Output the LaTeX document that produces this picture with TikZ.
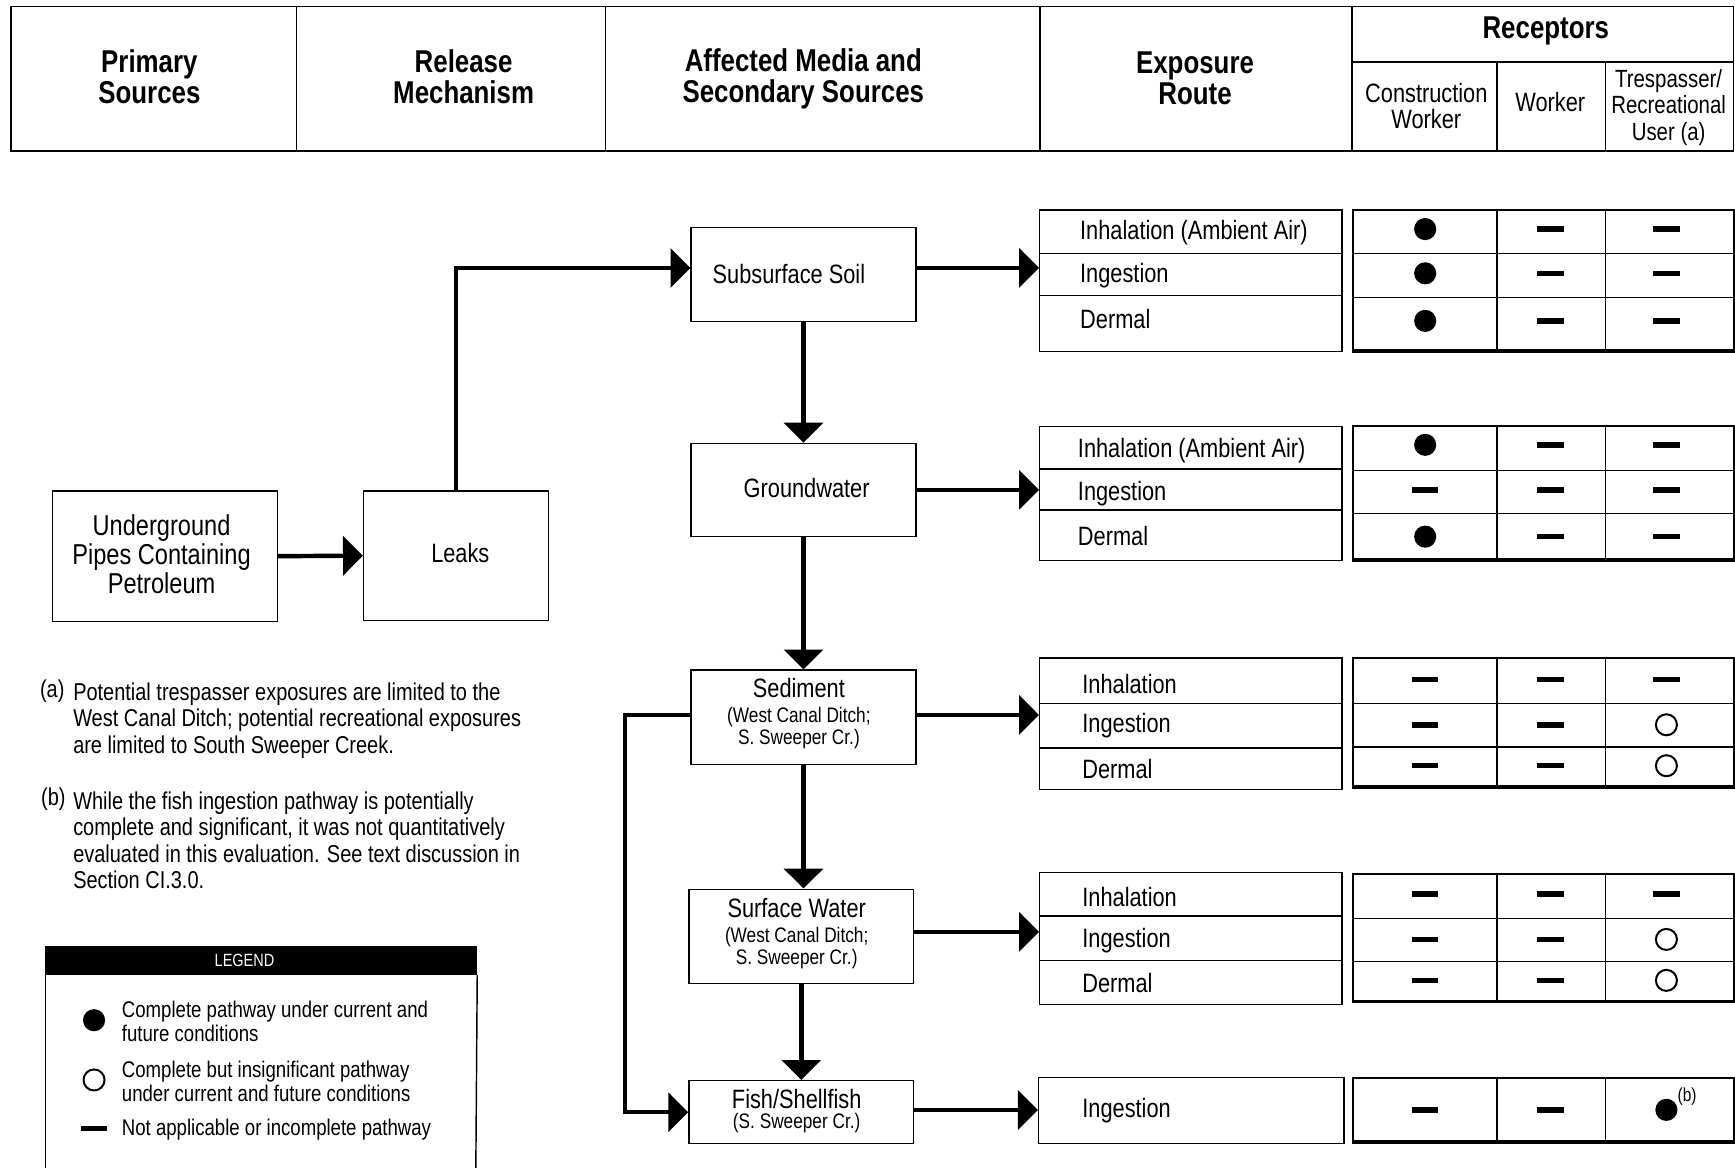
\documentclass[tikz,border=0pt]{standalone}
\usepackage{fontspec}
\setmainfont[FakeStretch=0.82]{Liberation Sans}
\usetikzlibrary{arrows.meta}
\newcommand\fHead{\bfseries\fontsize{28.5}{28}\selectfont}
\newcommand\fBody{\fontsize{24}{24}\selectfont}
\newcommand\fBig{\fontsize{26}{26}\selectfont}
\newcommand\fNote{\fontsize{22}{24}\selectfont}
\newcommand\fLeg{\fontsize{20.5}{22}\selectfont}
\newcommand\fSub{\fontsize{19}{20}\selectfont}
\begin{document}
\begin{tikzpicture}[x=1pt,y=-1pt,
  box/.style={draw=black, line width=1.3pt, inner sep=0pt, anchor=north west},
  rtab/.style={draw=black, line width=1.8pt, inner sep=0pt, anchor=north west, minimum width=344pt},
  thin/.style={line width=1.3pt},
  arr/.style={line width=4pt, -{Triangle[length=18pt,width=35pt]}},
  fdot/.style={circle, fill=black, inner sep=0pt, minimum size=20pt},
  odot/.style={circle, draw=black, line width=1.8pt, inner sep=0pt, minimum size=19pt},
  ndash/.style={rectangle, fill=black, inner sep=0pt, minimum width=24pt, minimum height=5pt},
  ltxt/.style={anchor=west, inner sep=0pt, align=left},
  ctxt/.style={inner sep=0pt, align=center}]
\useasboundingbox (0,0) rectangle (1568,1055);

% ---------- header ----------
\node[draw=black, line width=1.5pt, inner sep=0pt, anchor=north west, minimum width=1557pt, minimum height=131pt] (hdr) at (9,5) {};
\foreach \xx in {268,547,940,1222} \draw[thin] (\xx,5) -- (\xx,136);
\draw[thin] (1222,56) -- (1566,56);
\draw[thin] (1353,56) -- (1353,136);
\draw[thin] (1451,56) -- (1451,136);
\node[ctxt, font=\fHead] (hPS) at (135,69) {Primary\\Sources};
\node[ctxt, font=\fHead] (hRM) at (419,69) {Release\\Mechanism};
\node[ctxt, font=\fHead] (hAM) at (726,71.5) {Affected Media and\\Secondary Sources};
\node[ctxt, font=\fHead] (hER) at (1080,71) {Exposure\\Route};
\node[ctxt, font=\fHead] (hRC) at (1397,28) {Receptors};
\node[ctxt, font=\fBody] (hCW) at (1289,96) {Construction\\Worker};
\node[ctxt, font=\fBody] (hWK) at (1401,92) {Worker};
\node[ctxt, font=\fontsize{22.5}{24}\selectfont] (hTR) at (1508,97) {Trespasser/\\Recreational\\User (a)};

% ---------- source boxes ----------
\node[box, minimum width=203pt, minimum height=118pt] (under) at (47,443) {};
\node[ctxt, font=\fBig] (underT) at (146,501) {Underground\\Pipes Containing\\Petroleum};
\node[box, minimum width=167pt, minimum height=117pt] (leaks) at (328,443) {};
\node[ctxt, font=\fBody] (leaksT) at (416,500) {Leaks};

% ---------- media boxes ----------
\node[box, minimum width=203pt, minimum height=85pt] (sub) at (624,205) {};
\node[ctxt, font=\fBody] (subT) at (713,248) {Subsurface Soil};
\node[box, minimum width=203pt, minimum height=84pt] (gw) at (624,400) {};
\node[ctxt, font=\fBody] (gwT) at (729,441) {Groundwater};
\node[box, minimum width=203pt, minimum height=85pt] (sed) at (624,605) {};
\node[ctxt, font=\fBody] (sedT) at (722,622) {Sediment};
\node[ctxt, font=\fSub] (sedS) at (722,658) {(West Canal Ditch;\\S. Sweeper Cr.)};
\node[box, minimum width=203pt, minimum height=85pt] (sw) at (622,803) {};
\node[ctxt, font=\fBody] (swT) at (720,821) {Surface Water};
\node[ctxt, font=\fSub] (swS) at (720,856.5) {(West Canal Ditch;\\S. Sweeper Cr.)};
\node[box, minimum width=203pt, minimum height=57pt] (fish) at (622,976) {};
\node[ctxt, font=\fBody] (fishT) at (720,993) {Fish/Shellfish};
\node[ctxt, font=\fSub] (fishS) at (720,1015) {(S. Sweeper Cr.)};

% ---------- exposure route boxes ----------
\node[box, minimum width=273pt, minimum height=128pt] (e1) at (939,189) {};
\draw[thin] (939,229) -- (1212,229); \draw[thin] (939,267) -- (1212,267);
\node[ltxt, font=\fBody] (e1a) at (976,210) {Inhalation (Ambient Air)};
\node[ltxt, font=\fBody] (e1b) at (976,249) {Ingestion};
\node[ltxt, font=\fBody] (e1c) at (976,288) {Dermal};

\node[box, minimum width=273pt, minimum height=121pt] (e2) at (939,385) {};
\draw[thin] (939,424) -- (1212,424); \draw[thin] (939,461) -- (1212,461);
\node[ltxt, font=\fBody] (e2a) at (974,407) {Inhalation (Ambient Air)};
\node[ltxt, font=\fBody] (e2b) at (974,446) {Ingestion};
\node[ltxt, font=\fBody] (e2c) at (974,484) {Dermal};

\node[box, minimum width=273pt, minimum height=119pt] (e3) at (939,594) {};
\draw[thin] (939,636) -- (1212,636); \draw[thin] (939,676) -- (1212,676);
\node[ltxt, font=\fBody] (e3a) at (978,618) {Inhalation};
\node[ltxt, font=\fBody] (e3b) at (978,656) {Ingestion};
\node[ltxt, font=\fBody] (e3c) at (978,695) {Dermal};

\node[box, minimum width=273pt, minimum height=119pt] (e4) at (939,788) {};
\draw[thin] (939,828) -- (1212,828); \draw[thin] (939,868) -- (1212,868);
\node[ltxt, font=\fBody] (e4a) at (978,811) {Inhalation};
\node[ltxt, font=\fBody] (e4b) at (978,850) {Ingestion};
\node[ltxt, font=\fBody] (e4c) at (978,888) {Dermal};

\node[box, minimum width=276pt, minimum height=60pt] (e5) at (938,973) {};
\node[ltxt, font=\fBody] (e5a) at (978,1004) {Ingestion};

% ---------- receptor tables ----------
\node[rtab, minimum height=128pt] (r1) at (1222,189) {};
\node[rtab, minimum height=122pt] (r2) at (1222,384) {};
\node[rtab, minimum height=117pt] (r3) at (1222,594) {};
\node[rtab, minimum height=116pt] (r4) at (1222,789) {};
\node[rtab, minimum height=59pt] (r5) at (1222,973) {};
\foreach \t/\b in {189/317,384/506,594/711,789/905,973/1032}{
  \draw[thin] (1353,\t) -- (1353,\b);
  \draw[thin] (1451,\t) -- (1451,\b);
  \draw[line width=2.6pt] (1222,\b) -- (1566,\b);
}
\foreach \yy in {229,269,425,464,636,675,830,869} \draw[thin] (1222,\yy) -- (1566,\yy);

\foreach \yy/\a/\b/\c [count=\i] in {
  207/fdot/ndash/ndash, 247/fdot/ndash/ndash, 290/fdot/ndash/ndash,
  402/fdot/ndash/ndash, 443/ndash/ndash/ndash, 485/fdot/ndash/ndash,
  614/ndash/ndash/ndash, 655/ndash/ndash/odot, 692/ndash/ndash/odot,
  808/ndash/ndash/ndash, 849/ndash/ndash/odot, 886/ndash/ndash/odot,
  1003/ndash/ndash/fdot}{
  \node[\a] (s\i-a) at (1288,\yy) {};
  \node[\b] (s\i-b) at (1401,\yy) {};
  \node[\c] (s\i-c) at (1506,\yy) {};
}
\node[anchor=west, inner sep=0pt, font=\fontsize{17}{17}\selectfont] (bmark) at (1516,991) {(b)};

% ---------- connectors ----------
\draw[arr] (under.east) -- (leaks.west);
\draw[arr] (leaks.north) |- ([yshift=6pt]sub.west);
\draw[arr] ([yshift=6pt]sub.east) -- ([yshift=6pt]sub.east -| e1.west);
\draw[arr] (gw.east) -- (gw.east -| e2.west);
\draw[arr] ([yshift=2pt]sed.east) -- ([yshift=2pt]sed.east -| e3.west);
\draw[arr] ([yshift=4pt]sw.east) -- ([yshift=4pt]sw.east -| e4.west);
\draw[arr] ([yshift=2pt]fish.east) -- ([yshift=2pt]fish.east -| e5.west);
\draw[arr] (sub.south) -- (gw.north);
\draw[arr] (gw.south) -- (sed.north);
\draw[arr] (sed.south) -- (sed.south |- sw.north);
\draw[arr] (sw.south) -- (fish.north);
\draw[arr] ([yshift=2pt]sed.west) -- ++(-59,0) |- (fish.west);

% ---------- notes ----------
\node[anchor=west, inner sep=0pt, font=\fNote] (na) at (36,625) {(a)};
\node[ltxt, font=\fNote] (naT) at (66,651) {Potential trespasser exposures are limited to the\\West Canal Ditch; potential recreational exposures\\are limited to South Sweeper Creek.};
\node[anchor=west, inner sep=0pt, font=\fNote] (nb) at (37,722) {(b)};
\node[ltxt, font=\fNote] (nbT) at (66,759.5) {While the fish ingestion pathway is potentially\\complete and significant, it was not quantitatively\\evaluated in this evaluation. See text discussion in\\Section CI.3.0.};

% ---------- legend ----------
\node[draw=black, fill=black, line width=1.3pt, inner sep=0pt, anchor=north west, minimum width=389pt, minimum height=25pt] (legH) at (41,855) {};
\node[ctxt, text=white, font=\fontsize{16}{16}\selectfont] (legT) at (221,868) {LEGEND};
\draw[line width=1.3pt] (legH.south west) -- (41,1060);
\draw[line width=1.3pt] (legH.south east) -- (430,1060);
\node[fdot] (lg1) at (85,922) {};
\node[ltxt, font=\fLeg] (lg1T) at (110,923) {Complete pathway under current and\\future conditions};
\node[odot] (lg2) at (85,976) {};
\node[ltxt, font=\fLeg] (lg2T) at (110,977) {Complete but insignificant pathway\\under current and future conditions};
\node[ndash] (lg3) at (85,1020) {};
\node[ltxt, font=\fLeg] (lg3T) at (110,1021) {Not applicable or incomplete pathway};
\end{tikzpicture}
\end{document}
